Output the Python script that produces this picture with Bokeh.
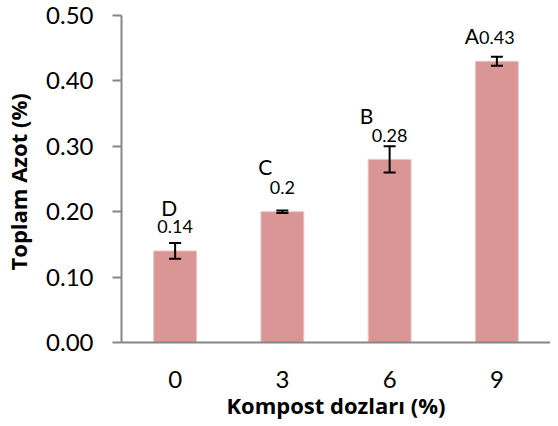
from bokeh.plotting import figure
from bokeh.models import ColumnDataSource, Whisker, TeeHead, NumeralTickFormatter, FixedTicker, Range1d
from bokeh.core.properties import value
from bokeh.embed import file_html
from bokeh.resources import INLINE

doses = ["0", "3", "6", "9"]
nitrogen = [0.14, 0.20, 0.28, 0.43]
errors = [0.012, 0.002, 0.02, 0.007]
letters = ["D", "C", "B", "A"]
value_labels = ["0.14", "0.2", "0.28", "0.43"]
y_ticks = [0.0, 0.1, 0.2, 0.3, 0.4, 0.5]
x_title = "Kompost dozları (%)"
y_title = "Toplam Azot  (%)"

# label offsets (screen px), layout only
letter_dx = [-6, -17, -23, -25]
letter_dy = [-43, -45, -44, -26]

FONT = "Lato"
TITLE_FONT = "Open Sans"

src = ColumnDataSource(dict(
    x=doses, top=nitrogen,
    upper=[v + e for v, e in zip(nitrogen, errors)],
    lower=[v - e for v, e in zip(nitrogen, errors)],
    vlab=value_labels, let=letters, ldx=letter_dx, ldy=letter_dy,
))

p = figure(x_range=doses, y_range=Range1d(0, 0.5), width=550, height=422,
           output_backend="svg", toolbar_location=None,
           min_border_left=112, min_border_right=0, min_border_top=15, min_border_bottom=79)
p.outline_line_color = None
p.grid.visible = False
p.background_fill_color = "white"

p.vbar(x="x", top="top", width=0.4, source=src, fill_color="#D99694", line_color="#EBC5C4", line_width=1)

w = Whisker(base="x", upper="upper", lower="lower", source=src, line_color="black", line_width=2,
            upper_head=TeeHead(size=12, line_width=2, line_color="black"),
            lower_head=TeeHead(size=12, line_width=2, line_color="black"))
w.level = "overlay"
p.add_layout(w)

p.text(x="x", y="top", text="vlab", source=src, y_offset=-24, text_align="center",
       text_baseline="middle", text_font=value(FONT), text_font_size="18px", text_color="black")
p.text(x="x", y="top", text="let", source=src, x_offset="ldx", y_offset="ldy", text_align="center",
       text_baseline="middle", text_font=value(FONT), text_font_size="21px", text_color="black")

p.yaxis.ticker = FixedTicker(ticks=y_ticks)
p.yaxis.formatter = NumeralTickFormatter(format="0.00")
p.yaxis.minor_tick_line_color = None
p.yaxis.major_tick_out = 9
p.yaxis.major_tick_in = 0
p.yaxis.major_label_standoff = 19
p.yaxis.axis_label = y_title
p.yaxis.axis_label_standoff = 10

p.xaxis.major_tick_out = 0
p.xaxis.major_tick_in = 0
p.xaxis.major_label_standoff = 28
p.xaxis.axis_label = x_title
p.xaxis.axis_label_standoff = -1

for ax in (p.xaxis, p.yaxis):
    ax.axis_line_color = "#868686"
    ax.axis_line_width = 2
    ax.major_tick_line_color = "#868686"
    ax.major_tick_line_width = 2
    ax.major_label_text_font = FONT
    ax.major_label_text_font_size = "24px"
    ax.major_label_text_color = "black"
    ax.axis_label_text_font = TITLE_FONT
    ax.axis_label_text_font_size = "22px"
    ax.axis_label_text_font_style = "bold"
    ax.axis_label_text_color = "black"

open("out.html", "w").write(file_html(p, INLINE))
